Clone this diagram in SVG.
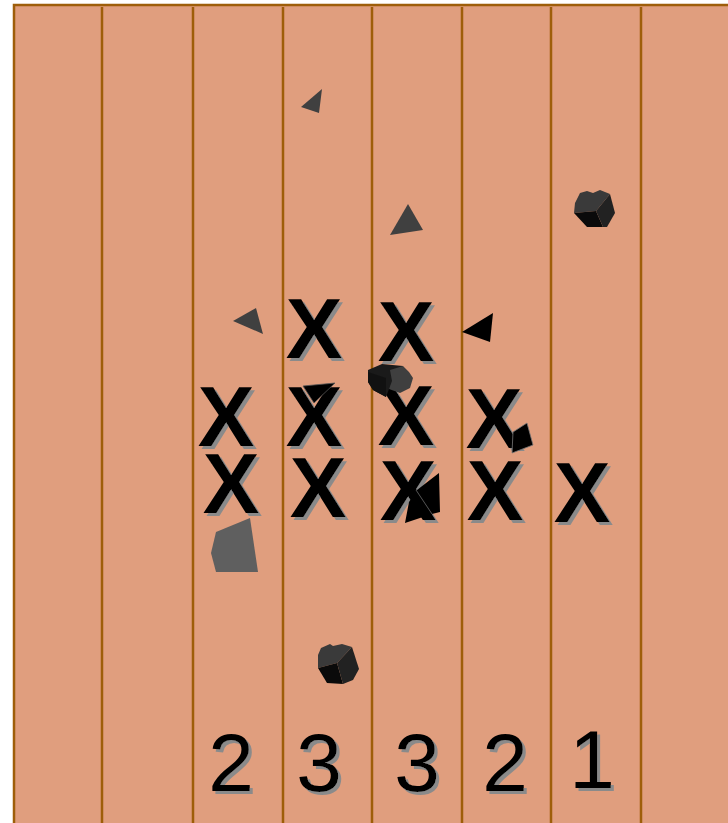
<svg xmlns="http://www.w3.org/2000/svg" width="728" height="823" viewBox="0 0 728 823">
  <defs>
    <filter id="drop" x="-10%" y="-10%" width="130%" height="130%">
      <feOffset in="SourceAlpha" dx="3" dy="3" result="off"/>
      <feFlood flood-color="#8a8a8a"/>
      <feComposite in2="off" operator="in" result="shade"/>
      <feMerge>
        <feMergeNode in="shade"/>
        <feMergeNode in="SourceGraphic"/>
      </feMerge>
    </filter>
    <style>
      .lane { stroke: #9E5E0A; stroke-width: 2.5; }
      .mark { font-family: "Liberation Sans", Arial, sans-serif; font-weight: bold; font-size: 85px; text-anchor: middle; fill: #000; }
      .num { font-family: "Liberation Sans", Arial, sans-serif; font-size: 82px; text-anchor: middle; fill: #000; }
      .tri { fill: #404040; }
    </style>
  </defs>
  <rect x="0" y="0" width="728" height="823" fill="#ffffff"/>
  <!-- field -->
  <rect x="14" y="5" width="730" height="830" fill="#E09E7E" stroke="#9E5E0A" stroke-width="2.5"/>
  <g id="lanes">
    <line class="lane" x1="102" y1="7" x2="102" y2="823"/>
    <line class="lane" x1="193" y1="7" x2="193" y2="823"/>
    <line class="lane" x1="283" y1="7" x2="283" y2="823"/>
    <line class="lane" x1="372" y1="7" x2="372" y2="823"/>
    <line class="lane" x1="462" y1="7" x2="462" y2="823"/>
    <line class="lane" x1="551" y1="7" x2="551" y2="823"/>
    <line class="lane" x1="641" y1="7" x2="641" y2="823"/>
  </g>
  <!-- X marks with a grey drop shadow -->
  <g id="marks" class="mark" filter="url(#drop)">
    <text x="314" y="358">X</text>
    <text x="406" y="361">X</text>
    <text x="226" y="446">X</text>
    <text x="314" y="446">X</text>
    <text x="406" y="445">X</text>
    <text x="494" y="448">X</text>
    <text x="231" y="513">X</text>
    <text x="318" y="517">X</text>
    <text x="408" y="520">X</text>
    <text x="495" y="520">X</text>
    <text x="582" y="522">X</text>
  </g>
  <!-- per-lane counts -->
  <g id="counts" class="num" filter="url(#drop)">
    <text x="231" y="791">2</text>
    <text x="319" y="791">3</text>
    <text x="417" y="791">3</text>
    <text x="505" y="791">2</text>
    <text x="592" y="788">1</text>
  </g>
  <!-- scattered pieces -->
  <g id="pieces">
    <polygon class="tri" points="322,89 301,107 319,113"/>
    <polygon class="tri" points="408,204 390,235 423,230"/>
    <polygon class="tri" points="233,321 256,308 263,334"/>
    <polygon fill="#000" points="462,332 493,313 490,342"/>
    <polygon fill="#5f5f5f" points="216,532 250,518 258,572 216,572 211,553"/>
    <!-- small wedges over the marks -->
    <polygon fill="#000" stroke="#555" stroke-width="0.8" points="303,386 335,383 314,403"/>
    <polygon fill="#000" stroke="#777" stroke-width="0.8" points="513,432 527,423 533,445 512,453"/>
    <polygon fill="#000" points="417,490 439,473 440,512 432,514 405,523 409,502"/>
    <line x1="416" y1="490" x2="432" y2="514" stroke="#555" stroke-width="1"/>
  </g>
  <!-- rocks -->
  <g id="rock-top">
    <polygon fill="#3a3a3a" points="575,203 580,193 587,191 593,193 600,190 610,194 596,211 574,213"/>
    <polygon fill="#0a0a0a" points="574,213 596,211 603,227 587,227"/>
    <polygon fill="#222222" points="596,211 610,194 615,213 607,227 603,227"/>
  </g>
  <g id="rock-mid">
    <polygon fill="#1a1a1a" points="368,370 382,364 403,366 389,389 386,397 373,390 368,382"/>
    <polygon fill="#111" points="368,372 386,378 386,397 373,390 368,382"/>
    <polygon fill="#3f3f3f" points="390,370 403,366 409,372 413,378 410,388 400,393 389,389 392,381"/>
  </g>
  <g id="rock-bottom">
    <polygon fill="#3a3a3a" points="318,668 318,655 321,648 330,644 333,646 342,644 352,647 337,663"/>
    <polygon fill="#0a0a0a" points="318,668 337,663 343,684 327,683"/>
    <polygon fill="#222222" points="337,663 352,647 359,669 353,680 343,684"/>
  </g>
</svg>
